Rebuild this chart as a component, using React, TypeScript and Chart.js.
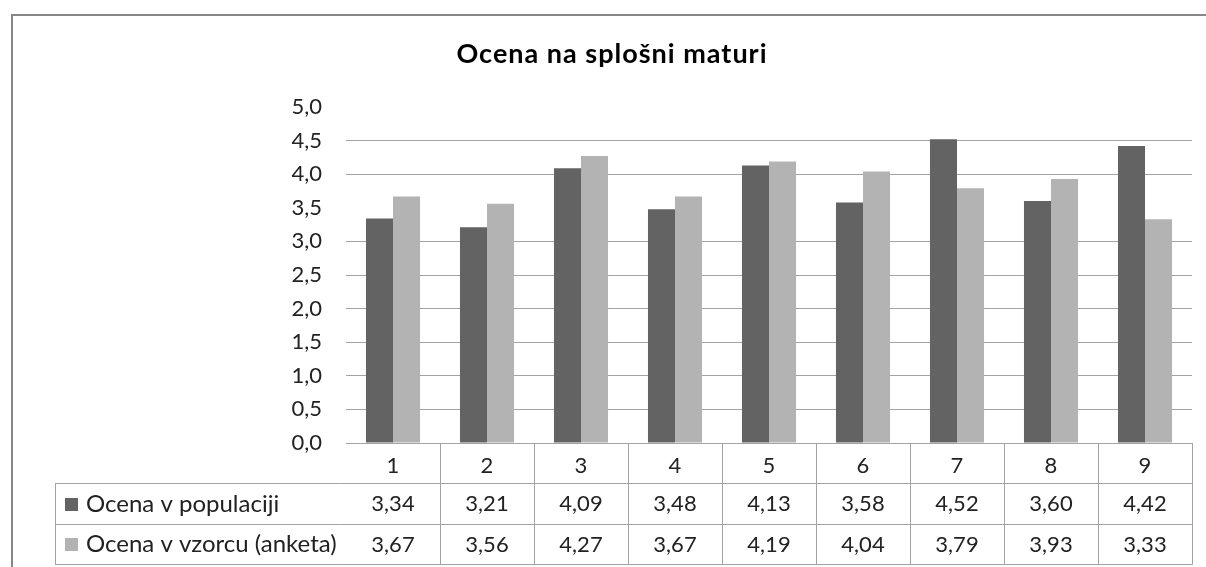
import React, { useEffect, useRef } from 'react';
import { Chart, registerables } from 'chart.js';

Chart.register(...registerables);

const chartTitle = 'Ocena na splošni maturi';
const categories = ['1', '2', '3', '4', '5', '6', '7', '8', '9'];
const seriesNames = ['Ocena v populaciji', 'Ocena v vzorcu (anketa)'];
const populacija = [3.34, 3.21, 4.09, 3.48, 4.13, 3.58, 4.52, 3.6, 4.42];
const vzorec = [3.67, 3.56, 4.27, 3.67, 4.19, 4.04, 3.79, 3.93, 3.33];
const yTickLabels = ['0,0', '0,5', '1,0', '1,5', '2,0', '2,5', '3,0', '3,5', '4,0', '4,5', '5,0'];
const hiddenGridValues = [3.5, 5];

const DARK = '#636363';
const LIGHT = '#b3b3b3';
const GRID = '#a3a3a3';
const FRAME = '#878787';
const TEXT = '#222222';
const FONT = 'Lato, "Open Sans", sans-serif';
const FS = 22;

const fmt = (v: number) => v.toFixed(2).replace('.', ',');

const tablePlugin = {
  id: 'tablePlugin',
  beforeDraw(chart: any) {
    const ctx = chart.ctx;
    ctx.save();
    ctx.fillStyle = '#ffffff';
    ctx.fillRect(0, 0, chart.width, chart.height);
    ctx.strokeStyle = FRAME;
    ctx.lineWidth = 2;
    ctx.strokeRect(12, 15, chart.width + 20, chart.height + 20);
    ctx.restore();
  },
  afterDraw(chart: any) {
    const ctx = chart.ctx;
    const area = chart.chartArea;
    const xs = chart.scales.x;
    const top = Math.round(area.bottom);
    const rows = [top, top + 40, top + 81, top + 121];
    const left = 55;
    const right = Math.round(area.right);
    const n = categories.length;

    ctx.save();
    // title
    ctx.fillStyle = '#000000';
    ctx.font = `bold 27px ${FONT}`;
    try { (ctx as any).letterSpacing = '1px'; } catch (e) { /* ignore */ }
    ctx.textAlign = 'center';
    ctx.textBaseline = 'alphabetic';
    ctx.fillText(chartTitle, 612, 63);
    try { (ctx as any).letterSpacing = '0px'; } catch (e) { /* ignore */ }

    // table lines
    ctx.strokeStyle = GRID;
    ctx.lineWidth = 1;
    ctx.beginPath();
    for (let r = 1; r < rows.length; r++) {
      ctx.moveTo(left, rows[r] + 0.5);
      ctx.lineTo(right + 0.5, rows[r] + 0.5);
    }
    ctx.moveTo(left + 0.5, rows[1]);
    ctx.lineTo(left + 0.5, rows[3] + 0.5);
    for (let i = 0; i < n; i++) {
      const b = i < n - 1 ? Math.round((xs.getPixelForValue(i) + xs.getPixelForValue(i + 1)) / 2) : right;
      ctx.moveTo(b + 0.5, rows[0]);
      ctx.lineTo(b + 0.5, rows[3] + 0.5);
    }
    ctx.stroke();

    // rows
    const series = [populacija, vzorec];
    const colors = [DARK, LIGHT];
    ctx.textBaseline = 'middle';
    for (let s = 0; s < series.length; s++) {
      const cy = (rows[s + 1] + rows[s + 2]) / 2 + 0.5;
      ctx.fillStyle = colors[s];
      ctx.fillRect(65, Math.round(cy - 6.5), 13, 13);
      ctx.fillStyle = TEXT;
      ctx.textAlign = 'left';
      ctx.font = `24px ${FONT}`;
      ctx.fillText(seriesNames[s], 86, cy);
      ctx.textAlign = 'center';
      ctx.font = `${FS}px ${FONT}`;
      for (let i = 0; i < n; i++) {
        ctx.fillText(fmt(series[s][i]), xs.getPixelForValue(i), cy);
      }
    }
    ctx.restore();
  },
};

export default function App() {
  const ref = useRef<HTMLCanvasElement | null>(null);
  useEffect(() => {
    if (!ref.current) return;
    const chart = new Chart(ref.current, {
      type: 'bar',
      data: {
        labels: categories,
        datasets: [
          { label: seriesNames[0], data: populacija, backgroundColor: DARK, borderWidth: 0 },
          { label: seriesNames[1], data: vzorec, backgroundColor: LIGHT, borderWidth: 0 },
        ],
      },
      options: {
        responsive: false,
        animation: false,
        devicePixelRatio: 1,
        layout: { padding: { left: 0, right: 14, top: 107, bottom: 0 } },
        plugins: { legend: { display: false }, title: { display: false }, tooltip: { enabled: false } },
        datasets: { bar: { categoryPercentage: 0.575, barPercentage: 1 } },
        scales: {
          x: {
            grid: { display: false },
            border: { display: false },
            ticks: { color: TEXT, font: { family: FONT, size: FS }, padding: 2, maxRotation: 0, autoSkip: false },
            afterFit: (s: any) => { s.height = 124; },
          },
          y: {
            min: 0,
            max: 5,
            border: { display: false },
            grid: {
              drawTicks: false,
              lineWidth: 1,
              color: (c: any) => (c.tick && hiddenGridValues.includes(c.tick.value) ? 'rgba(0,0,0,0)' : GRID),
            },
            ticks: {
              stepSize: 0.5,
              padding: 24,
              color: TEXT,
              font: { family: FONT, size: FS },
              callback: (_v: any, i: number) => yTickLabels[i],
            },
            afterFit: (s: any) => { s.width = 346; },
          },
        },
      },
      plugins: [tablePlugin],
    });
    return () => chart.destroy();
  }, []);
  return (
    <div style={{ position: 'absolute', left: 0, top: 0, width: 1206, height: 567 }}>
      <canvas ref={ref} width={1206} height={567} />
    </div>
  );
}
